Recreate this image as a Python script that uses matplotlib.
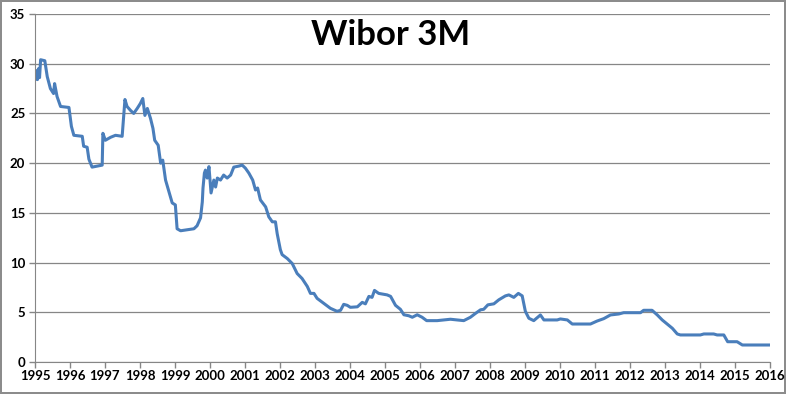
import matplotlib.pyplot as plt

# Wibor 3M rate (%); time in decimal years
years = [
    1995.01, 1995.04, 1995.07, 1995.10, 1995.13, 1995.16, 1995.28, 1995.35, 1995.44, 1995.53,
    1995.56, 1995.63, 1995.73, 1995.97, 1996.04, 1996.11, 1996.35, 1996.39, 1996.49, 1996.54,
    1996.63, 1996.92, 1996.94, 1997.01, 1997.16, 1997.30, 1997.49, 1997.57, 1997.63, 1997.73,
    1997.82, 1997.92, 1998.01, 1998.08, 1998.14, 1998.21, 1998.30, 1998.37, 1998.42, 1998.52,
    1998.59, 1998.65, 1998.73, 1998.82, 1998.92, 1999.01, 1999.06, 1999.16, 1999.54, 1999.63,
    1999.73, 1999.78, 1999.80, 1999.84, 1999.87, 1999.92, 1999.97, 2000.03, 2000.11, 2000.16,
    2000.21, 2000.30, 2000.39, 2000.49, 2000.59, 2000.68, 2000.82, 2000.92, 2001.01, 2001.11,
    2001.22, 2001.30, 2001.36, 2001.44, 2001.59, 2001.68, 2001.78, 2001.87, 2001.92, 2002.01,
    2002.06, 2002.21, 2002.35, 2002.49, 2002.63, 2002.78, 2002.87, 2002.97, 2003.06, 2003.25,
    2003.44, 2003.63, 2003.73, 2003.82, 2003.92, 2004.01, 2004.21, 2004.35, 2004.44, 2004.54,
    2004.63, 2004.70, 2004.82, 2005.06, 2005.16, 2005.30, 2005.44, 2005.54, 2005.68, 2005.78,
    2005.92, 2006.06, 2006.19, 2006.49, 2006.87, 2007.25, 2007.44, 2007.59, 2007.73, 2007.82,
    2007.94, 2008.11, 2008.25, 2008.44, 2008.54, 2008.68, 2008.81, 2008.92, 2009.01, 2009.11,
    2009.25, 2009.44, 2009.54, 2009.92, 2010.01, 2010.21, 2010.35, 2010.87, 2011.06, 2011.25,
    2011.44, 2011.68, 2011.82, 2012.30, 2012.39, 2012.63, 2012.78, 2012.92, 2013.06, 2013.21,
    2013.35, 2013.44, 2014.01, 2014.11, 2014.39, 2014.49, 2014.68, 2014.79, 2015.06, 2015.21,
    2016.01,
]
wibor = [
    28.5, 29.3, 28.4, 29.5, 28.6, 30.4, 30.3, 28.7, 27.5, 27.0,
    28.0, 26.7, 25.7, 25.6, 23.7, 22.8, 22.7, 21.7, 21.6, 20.4,
    19.6, 19.8, 23.0, 22.3, 22.6, 22.8, 22.7, 26.4, 25.7, 25.3,
    25.0, 25.5, 26.0, 26.5, 24.8, 25.5, 24.5, 23.5, 22.3, 21.8,
    20.0, 20.3, 18.3, 17.2, 16.0, 15.8, 13.4, 13.2, 13.4, 13.7,
    14.5, 16.1, 17.5, 19.0, 19.3, 18.5, 19.65, 17.0, 18.3, 17.6,
    18.5, 18.3, 18.8, 18.5, 18.8, 19.6, 19.7, 19.8, 19.5, 19.0,
    18.3, 17.3, 17.5, 16.3, 15.6, 14.6, 14.1, 14.1, 12.9, 11.3,
    10.8, 10.4, 9.9, 8.9, 8.4, 7.6, 6.9, 6.9, 6.4, 5.9,
    5.4, 5.1, 5.2, 5.8, 5.7, 5.5, 5.55, 6.0, 5.85, 6.6,
    6.5, 7.2, 6.9, 6.75, 6.6, 5.7, 5.3, 4.75, 4.65, 4.5,
    4.75, 4.5, 4.16, 4.16, 4.3, 4.16, 4.5, 4.9, 5.25, 5.3,
    5.75, 5.85, 6.25, 6.65, 6.75, 6.5, 6.9, 6.65, 5.1, 4.4,
    4.16, 4.73, 4.23, 4.23, 4.33, 4.23, 3.82, 3.82, 4.12, 4.36,
    4.73, 4.83, 4.96, 4.96, 5.2, 5.2, 4.73, 4.23, 3.82, 3.39,
    2.82, 2.72, 2.72, 2.82, 2.82, 2.72, 2.72, 2.04, 2.04, 1.71,
    1.71,
]
year_ticks = list(range(1995, 2017))
rate_ticks = [0, 5, 10, 15, 20, 25, 30, 35]

plt.rcParams["font.family"] = ["Lato", "DejaVu Sans"]

fig = plt.figure(figsize=(7.86, 3.94), dpi=100)
fig.patch.set_edgecolor("#8c8c8c")
fig.patch.set_linewidth(1.5)
ax = fig.add_axes([35 / 786, 1 - 362 / 394, 735 / 786, 348 / 394])

ax.plot(years, wibor, color="#4a7ebb", linewidth=2.2, solid_joinstyle="round")

ax.set_xlim(1995, 2016)
ax.set_ylim(0, 35)
ax.set_xticks(year_ticks)
ax.set_yticks(rate_ticks)
ax.tick_params(axis="both", colors="#868686", labelcolor="black", length=4, width=1,
               labelsize=9.5)
for lab in ax.get_xticklabels() + ax.get_yticklabels():
    lab.set_fontweight("bold")
ax.tick_params(axis="x", pad=2)
ax.tick_params(axis="y", pad=3)

ax.grid(axis="y", color="#868686", linewidth=0.9)
ax.set_axisbelow(True)
for side in ["top", "right"]:
    ax.spines[side].set_visible(False)
for side in ["left", "bottom"]:
    ax.spines[side].set_color("#868686")

fig.text(0.497, 0.912, "Wibor 3M", ha="center", va="center", fontsize=25, fontweight="bold")

fig.savefig("out.png", dpi=100, edgecolor=fig.get_edgecolor())
